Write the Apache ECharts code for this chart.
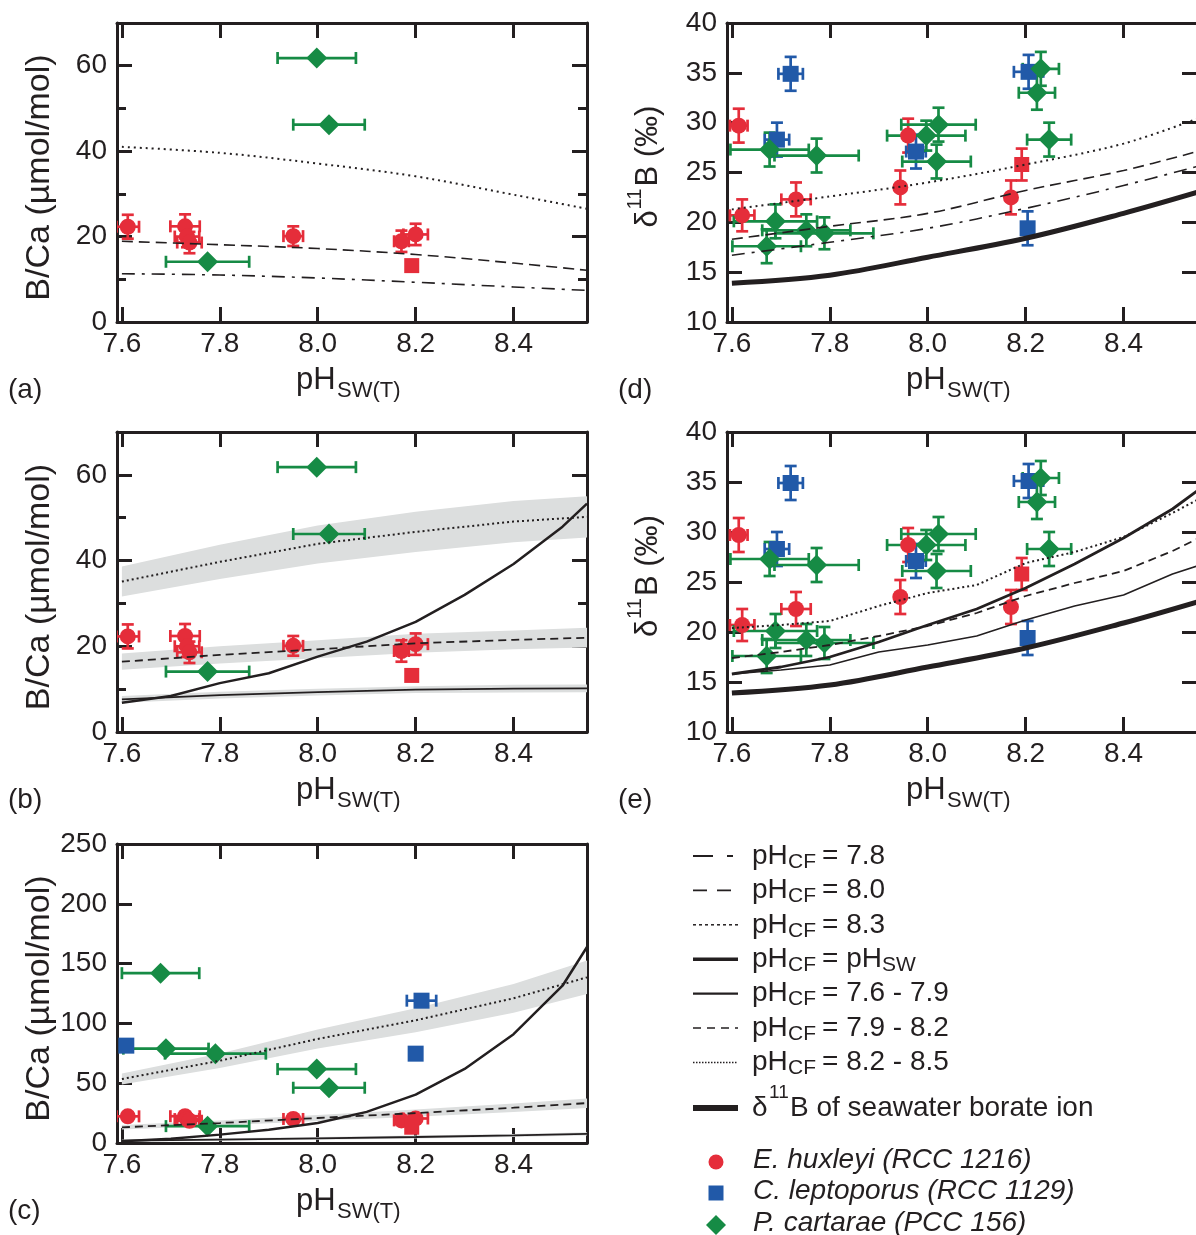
<!DOCTYPE html>
<html>
<head>
<meta charset="utf-8">
<script src="https://cdn.jsdelivr.net/npm/echarts@6/dist/echarts.min.js"></script>
<style>
  html, body { margin: 0; padding: 0; background: #fff; }
  #chart { width: 1196px; height: 1235px; }
</style>
</head>
<body>
<div id="chart"></div>
<script>
// pH grids used by the model curves
var phCoarse = [7.6, 7.8, 8.0, 8.2, 8.4, 8.55];
var phFine = [7.6, 7.7, 7.8, 7.9, 8.0, 8.1, 8.2, 8.3, 8.4, 8.5, 8.55];
var phTicks = [7.6, 7.8, 8.0, 8.2, 8.4];

// (a) B/Ca for constant pH_CF
var bcaCF78 = [11.3, 11.0, 10.3, 9.3, 8.2, 7.4];
var bcaCF80 = [18.9, 18.1, 17.2, 15.8, 13.8, 12.1];
var bcaCF83 = [41.0, 39.6, 37.1, 34.1, 29.8, 26.5];

// (b) B/Ca for pH_CF ranges (centre, low, high) and pH_CF = pH_SW
var bR76 = [7.6, 8.6, 9.3, 9.9, 10.1, 10.2];
var bR76Lo = [6.8, 7.8, 8.5, 9.1, 9.2, 9.3];
var bR76Hi = [8.4, 9.4, 10.1, 10.7, 11.0, 11.1];
var bR79 = [16.4, 18.0, 19.3, 20.7, 21.5, 22.0];
var bR79Lo = [14.5, 16.0, 17.2, 18.5, 19.3, 19.7];
var bR79Hi = [18.3, 20.0, 21.4, 22.9, 23.7, 24.3];
var bR82 = [35.1, 39.7, 43.9, 46.7, 49.1, 50.2];
var bR82Lo = [31.6, 35.7, 39.3, 42.0, 44.3, 45.4];
var bR82Hi = [38.6, 43.7, 48.2, 51.4, 53.9, 55.0];
var bPhSw = [6.8, 8.4, 11.4, 13.7, 17.6, 21.1, 25.7, 32.0, 39.2, 47.9, 53.3];

// (c) same model, wider B/Ca range
var cR76 = [2.0, 2.9, 3.9, 5.0, 6.3, 7.6];
var cR76Lo = [1.0, 1.9, 2.8, 3.8, 5.0, 6.2];
var cR76Hi = [3.0, 3.9, 5.0, 6.2, 7.6, 9.0];
var cR79 = [13.1, 16.7, 20.9, 25.0, 29.5, 33.4];
var cR79Lo = [11.3, 14.6, 18.4, 22.0, 26.0, 29.2];
var cR79Hi = [15.0, 18.9, 23.5, 28.0, 33.0, 37.2];
var cR82 = [53.5, 68.8, 87.0, 102.6, 121.0, 138.5];
var cR82Lo = [48.9, 62.8, 79.0, 92.6, 109.0, 124.5];
var cR82Hi = [58.1, 74.8, 95.0, 112.6, 133.0, 152.5];
var cPhSw = [1.4, 3.5, 7.0, 11.0, 16.7, 26.0, 40.4, 61.9, 91.0, 131.5, 163.9];

// (d) d11B for constant pH_CF and seawater borate
var d11CF78 = [16.7, 18.0, 19.4, 21.4, 23.7, 25.6];
var d11CF80 = [18.3, 19.6, 20.9, 23.2, 25.2, 27.1];
var d11CF83 = [21.3, 22.6, 24.0, 25.8, 27.9, 30.4];
var d11Borate = [13.9, 14.7, 16.5, 18.4, 20.9, 23.0];

// (e) d11B for pH_CF ranges and pH_CF = pH_SW (fine pH grid)
var ePhSw = [15.8, 16.5, 17.5, 19.0, 20.7, 22.3, 24.4, 26.8, 29.4, 32.3, 34.1];
var eR76 = [15.8, 16.2, 16.7, 18.0, 18.7, 19.6, 21.2, 22.6, 23.7, 25.8, 26.6];
var eR79 = [17.4, 18.0, 18.7, 19.6, 20.6, 21.9, 23.6, 24.9, 26.1, 28.1, 29.3];
var eR82 = [20.4, 20.7, 21.1, 22.6, 23.9, 24.7, 26.9, 28.0, 29.5, 31.9, 33.2];

// measurements: [pH, value, pH error, value error]
var huxBCa = [[7.612, 22.3, 0.023, 2.8], [7.729, 22.4, 0.03, 2.8], [7.733, 20.0, 0.025, 2.5],
  [7.738, 18.6, 0.025, 2.5], [7.95, 20.1, 0.02, 2.3], [8.171, 18.9, 0.015, 2.5], [8.2, 20.5, 0.025, 2.5]];
var huxSqBCa = [[8.192, 13.2, 0, 0]];
var leptoBCa = [[7.609, 81.4, 0, 0], [8.212, 119, 0.03, 0], [8.2, 74.7, 0, 0]];
var cartBCa = [[7.679, 142, 0.079, 0], [7.69, 78.9, 0.087, 0], [7.791, 74.7, 0.103, 0],
  [7.998, 61.8, 0.08, 0], [8.023, 46.2, 0.073, 0], [7.775, 14.1, 0.085, 0]];

var huxD11 = [[7.614, 29.7, 0.018, 1.7], [7.621, 20.7, 0.025, 1.6], [7.731, 22.3, 0.03, 1.7],
  [7.944, 23.5, 0, 1.7], [7.96, 28.7, 0, 1.7], [8.17, 22.5, 0, 1.7]];
var huxSqD11 = [[8.192, 25.8, 0, 1.6]];
var leptoD11 = [[7.72, 34.9, 0.025, 1.7], [7.692, 28.3, 0.025, 1.7], [7.976, 27.1, 0.02, 1.7],
  [8.206, 35.1, 0.03, 1.7], [8.204, 19.4, 0, 1.7]];
var cartD11 = [[7.677, 27.3, 0.08, 1.7], [7.773, 26.7, 0.086, 1.7], [7.689, 20.1, 0.085, 1.7],
  [7.671, 17.6, 0.07, 1.7], [7.752, 19.2, 0.09, 1.6], [7.789, 18.9, 0.1, 1.6],
  [7.997, 28.7, 0.08, 1.5], [8.022, 29.8, 0.076, 1.7], [8.018, 26.1, 0.07, 1.7],
  [8.231, 35.4, 0.037, 1.7], [8.223, 33.0, 0.037, 1.7], [8.248, 28.3, 0.045, 1.7]];

var INK = '#231f20';
var RED = '#e52d3a', BLUE = '#2159a8', GREEN = '#168b45', BAND = '#dcdede';
var FONT = '"Liberation Sans", Arial, Helvetica, sans-serif';

var grids = [], xAxes = [], yAxes = [], series = [];

function ticks(vals, len) {
  return { show: true, inside: true, length: len, customValues: vals, lineStyle: { color: INK, width: 3 } };
}
var frame = { show: true, onZero: false, lineStyle: { color: INK, width: 3 } };

function addPanel(box, yMin, yMax, yLabels, yTicks, yMinor, rightTicks) {
  var g = grids.length;
  grids.push(Object.assign({ outerBoundsMode: 'none', containLabel: false }, box));
  var p = { x: xAxes.length, y: yAxes.length };
  xAxes.push({ gridIndex: g, type: 'value', position: 'bottom', min: 7.59, max: 8.55,
    axisLine: frame, axisTick: ticks(phTicks, 15), splitLine: { show: false },
    axisLabel: { customValues: phTicks, formatter: function (v) { return v.toFixed(1); },
      color: INK, fontSize: 28, fontFamily: FONT, margin: 8 } });
  xAxes.push({ gridIndex: g, type: 'value', position: 'top', min: 7.59, max: 8.55,
    axisLine: frame, axisTick: ticks(phTicks, 15), axisLabel: { show: false }, splitLine: { show: false } });
  yAxes.push({ gridIndex: g, type: 'value', position: 'left', min: yMin, max: yMax,
    axisLine: frame, axisTick: ticks(yTicks, 15), splitLine: { show: false },
    axisLabel: { customValues: yLabels, color: INK, fontSize: 28, fontFamily: FONT, margin: 10 } });
  yAxes.push({ gridIndex: g, type: 'value', position: 'right', min: yMin, max: yMax,
    axisLine: frame, axisTick: rightTicks ? ticks(yTicks, 15) : { show: false },
    axisLabel: { show: false }, splitLine: { show: false } });
  if (yMinor) {
    ['left', 'right'].forEach(function (pos) {
      yAxes.push({ gridIndex: g, type: 'value', position: pos, min: yMin, max: yMax,
        axisLine: { show: false }, axisTick: ticks(yMinor, 9),
        axisLabel: { show: false }, splitLine: { show: false } });
    });
  }
  return p;
}

function curve(p, xs, ys, width, dash, smooth) {
  series.push({ type: 'line', xAxisIndex: p.x, yAxisIndex: p.y, silent: true, clip: true,
    data: xs.map(function (x, i) { return [x, ys[i]]; }), showSymbol: false, symbol: 'none',
    smooth: smooth || false,
    lineStyle: { color: INK, width: width, type: dash || 'solid' } });
}

function band(p, xs, lo, hi) {
  series.push({ type: 'custom', xAxisIndex: p.x, yAxisIndex: p.y, silent: true, clip: true,
    data: [[xs[0], lo[0]]],
    renderItem: function (params, api) {
      var pts = [];
      for (var i = 0; i < xs.length; i++) pts.push(api.coord([xs[i], hi[i]]));
      for (var j = xs.length - 1; j >= 0; j--) pts.push(api.coord([xs[j], lo[j]]));
      return { type: 'polygon', shape: { points: pts }, style: { fill: BAND } };
    } });
}

function markers(p, arr, symbol, size, color) {
  series.push({ type: 'custom', xAxisIndex: p.x, yAxisIndex: p.y, silent: true, clip: true,
    data: arr, encode: { x: 0, y: 1 },
    renderItem: function (params, api) {
      var x = api.value(0), y = api.value(1), ex = api.value(2), ey = api.value(3);
      var st = { stroke: color, lineWidth: 2.7 }, c = 6, kids = [];
      function seg(a, b) { kids.push({ type: 'line', shape: { x1: a[0], y1: a[1], x2: b[0], y2: b[1] }, style: st }); }
      if (ex > 0) {
        var l = api.coord([x - ex, y]), r = api.coord([x + ex, y]);
        seg(l, r); seg([l[0], l[1] - c], [l[0], l[1] + c]); seg([r[0], r[1] - c], [r[0], r[1] + c]);
      }
      if (ey > 0) {
        var t = api.coord([x, y + ey]), b = api.coord([x, y - ey]);
        seg(t, b); seg([t[0] - c, t[1]], [t[0] + c, t[1]]); seg([b[0] - c, b[1]], [b[0] + c, b[1]]);
      }
      return { type: 'group', children: kids };
    } });
  series.push({ type: 'scatter', xAxisIndex: p.x, yAxisIndex: p.y, silent: true, clip: true,
    data: arr, symbol: symbol, symbolSize: size, itemStyle: { color: color, opacity: 1 } });
}

function bcaPoints(p) {
  markers(p, huxBCa, 'circle', 16, RED);
  markers(p, huxSqBCa, 'rect', 15, RED);
  markers(p, leptoBCa, 'rect', 16, BLUE);
  markers(p, cartBCa, 'diamond', 21, GREEN);
}
function d11Points(p) {
  markers(p, huxD11, 'circle', 16, RED);
  markers(p, huxSqD11, 'rect', 15, RED);
  markers(p, leptoD11, 'rect', 16, BLUE);
  markers(p, cartD11, 'diamond', 21, GREEN);
}

var DASHDOT = [13, 7, 3, 7], DASH = [11, 6], DOT = [2, 4], DASH2 = [8, 5], DOT2 = [2, 3];

// (a)
var pa = addPanel({ left: 117, top: 23, width: 470, height: 299 }, 0, 70, [0, 20, 40, 60], [20, 40, 60], [10, 30, 50], true);
curve(pa, phCoarse, bcaCF83, 2, DOT, 0.35);
curve(pa, phCoarse, bcaCF80, 1.6, DASH, 0.35);
curve(pa, phCoarse, bcaCF78, 1.6, DASHDOT, 0.35);
bcaPoints(pa);

// (b)
var pb = addPanel({ left: 117, top: 432, width: 470, height: 300 }, 0, 70, [0, 20, 40, 60], [20, 40, 60], [10, 30, 50], true);
band(pb, phCoarse, bR82Lo, bR82Hi);
band(pb, phCoarse, bR79Lo, bR79Hi);
band(pb, phCoarse, bR76Lo, bR76Hi);
curve(pb, phCoarse, bR82, 2, DOT2);
curve(pb, phCoarse, bR79, 1.8, DASH2);
curve(pb, phCoarse, bR76, 1.8);
curve(pb, phFine, bPhSw, 2.5);
bcaPoints(pb);

// (c)
var pc = addPanel({ left: 117, top: 844, width: 470, height: 299 }, 0, 250, [0, 50, 100, 150, 200, 250], [50, 100, 150, 200], null, false);
band(pc, phCoarse, cR82Lo, cR82Hi);
band(pc, phCoarse, cR79Lo, cR79Hi);
band(pc, phCoarse, cR76Lo, cR76Hi);
curve(pc, phCoarse, cR82, 2, DOT2);
curve(pc, phCoarse, cR79, 1.8, DASH2);
curve(pc, phCoarse, cR76, 1.8);
curve(pc, phFine, cPhSw, 2.5);
bcaPoints(pc);

// (d)
var pd = addPanel({ left: 727, top: 23, width: 470, height: 299 }, 10, 40, [10, 15, 20, 25, 30, 35, 40], [15, 20, 25, 30, 35], null, true);
curve(pd, phCoarse, d11CF83, 2, DOT, 0.35);
curve(pd, phCoarse, d11CF80, 1.6, DASH, 0.35);
curve(pd, phCoarse, d11CF78, 1.6, DASHDOT, 0.35);
curve(pd, phCoarse, d11Borate, 5, null, 0.35);
d11Points(pd);

// (e)
var pe = addPanel({ left: 727, top: 432, width: 470, height: 300 }, 10, 40, [10, 15, 20, 25, 30, 35, 40], [15, 20, 25, 30, 35], null, true);
curve(pe, phFine, eR82, 2, DOT2);
curve(pe, phFine, eR79, 1.8, DASH2);
curve(pe, phFine, eR76, 1.6);
curve(pe, phFine, ePhSw, 2.8);
curve(pe, phCoarse, d11Borate, 5, null, 0.35);
d11Points(pe);

// ---- text and legend ----
var graphic = [];
function txt(x, y, s, size, extra) {
  var st = { text: s, fontSize: size, fontFamily: FONT, fill: INK, align: 'left', verticalAlign: 'middle' };
  if (extra) Object.assign(st, extra);
  return { type: 'text', x: x, y: y, style: st, silent: true };
}

// x titles and panel letters
[[117, 322, '(a)', 8], [117, 732, '(b)', 8], [117, 1143, '(c)', 8], [727, 322, '(d)', 618], [727, 732, '(e)', 618]].forEach(function (r) {
  var cx = r[0] + 235, by = r[1];
  graphic.push(txt(cx - 56, by + 58, 'pH', 31));
  graphic.push(txt(cx - 15, by + 69, 'SW(T)', 22));
  graphic.push(txt(r[3], by + 68, r[2], 28));
});

// y titles
[[23, 299], [432, 300], [844, 299]].forEach(function (g) {
  graphic.push({ type: 'group', x: 40, y: g[0] + g[1] / 2 + 5, rotation: Math.PI / 2, silent: true,
    children: [txt(0, 0, 'B/Ca (\u00b5mol/mol)', 34, { align: 'center' })] });
});
[[23, 299], [432, 300]].forEach(function (g) {
  graphic.push({ type: 'group', x: 648, y: g[0] + g[1] / 2 - 7, rotation: Math.PI / 2, silent: true,
    children: [txt(-62, 0, '\u03b4', 31), txt(-44, -13, '11', 20), txt(-21, 0, 'B (\u2030)', 31)] });
});

// legend: line styles
var legendRows = [
  ['7.8', [20, 14, 6, 40], 1.8], ['8.0', [14, 10], 1.8], ['8.3', [3, 3], 1.5], ['pH', null, 3.5],
  ['7.6 - 7.9', null, 2.2], ['7.9 - 8.2', [8, 6], 1.6], ['8.2 - 8.5', [1.5, 1.5], 1.5]
];
legendRows.forEach(function (r, i) {
  var y = 856 + 34.4 * i;
  graphic.push({ type: 'line', silent: true, shape: { x1: 693, y1: y, x2: 738, y2: y },
    style: { stroke: INK, lineWidth: r[2], lineDash: r[1] || null } });
  graphic.push(txt(752, y, 'pH', 28));
  graphic.push(txt(788, y + 6, 'CF', 21));
  if (r[0] === 'pH') {
    graphic.push(txt(822, y, '= pH', 28));
    graphic.push(txt(882, y + 6, 'SW', 21));
  } else {
    graphic.push(txt(822, y, '= ' + r[0], 28));
  }
});
graphic.push({ type: 'line', silent: true, shape: { x1: 693, y1: 1108, x2: 738, y2: 1108 },
  style: { stroke: INK, lineWidth: 6 } });
graphic.push(txt(752, 1108, '\u03b4', 28));
graphic.push(txt(769, 1093, '11', 19));
graphic.push(txt(790, 1108, 'B of seawater borate ion', 28));

// legend: species
graphic.push({ type: 'circle', silent: true, shape: { cx: 716, cy: 1162, r: 7.5 }, style: { fill: RED } });
graphic.push({ type: 'rect', silent: true, shape: { x: 708.5, y: 1185.5, width: 15, height: 15 }, style: { fill: BLUE } });
graphic.push({ type: 'polygon', silent: true, shape: { points: [[716, 1215], [726, 1225], [716, 1235], [706, 1225]] }, style: { fill: GREEN } });
var ital = { fontStyle: 'italic' };
graphic.push(txt(753, 1160, 'E. huxleyi (RCC 1216)', 28, ital));
graphic.push(txt(753, 1191, 'C. leptoporus (RCC 1129)', 28, ital));
graphic.push(txt(753, 1223, 'P. cartarae (PCC 156)', 28, ital));

var myChart = echarts.init(document.getElementById('chart'), null, { renderer: 'canvas' });
myChart.setOption({
  animation: false,
  backgroundColor: '#fff',
  grid: grids,
  xAxis: xAxes,
  yAxis: yAxes,
  series: series,
  graphic: graphic
});
</script>
</body>
</html>
